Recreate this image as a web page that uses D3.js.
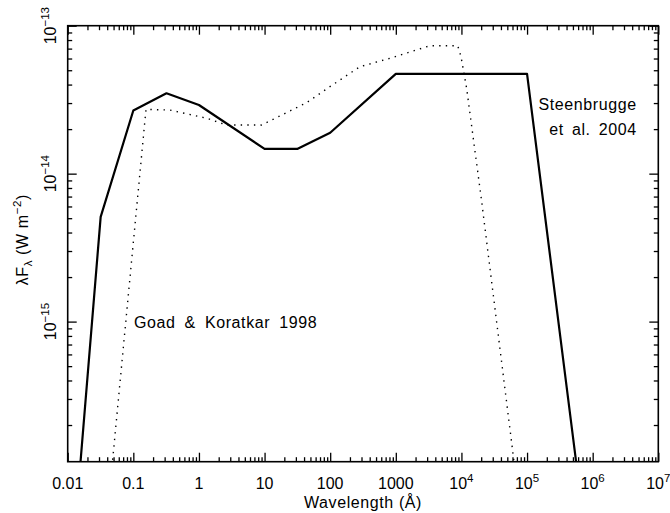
<!DOCTYPE html>
<html>
<head>
<meta charset="utf-8">
<script src="https://cdn.jsdelivr.net/npm/d3@7"></script>
<style>
    body { margin: 0; background: #fff; }
    text { font-family: "Liberation Sans", Arial, sans-serif; fill: #000; }
    .tick line { stroke: #000; stroke-width: 1.3; }
    .axis .domain { display: none; }
</style>
</head>
<body>
<div id="chart"></div>
<script>
// Steenbrugge et al. 2004 (solid)
var solidWave = [0.01, 0.0318, 0.1, 0.32, 1, 10, 31.4, 100, 1000, 1e5, 1e6];
var solidFlux = [1e-17, 5.1e-15, 2.67e-14, 3.49e-14, 2.91e-14, 1.47e-14, 1.47e-14, 1.89e-14, 4.72e-14, 4.72e-14, 1.47e-17];

// Goad & Koratkar 1998 (dotted)
var dotWave = [0.0286, 0.156, 0.361, 1.31, 2.64, 9.0, 43.7, 98.9, 283, 811, 3300, 8790, 9860, 1.2e4, 2.02e4, 6.28e4, 1.27e5];
var dotFlux = [1e-17, 2.72e-14, 2.69e-14, 2.37e-14, 2.13e-14, 2.13e-14, 3.02e-14, 3.87e-14, 5.28e-14, 6.02e-14, 7.32e-14, 7.32e-14, 6.17e-14, 3.78e-14, 6.64e-15, 1.16e-16, 1e-17];

// tick labels
var xMajor = [1e-2, 1e-1, 1, 10, 100, 1000, 1e4, 1e5, 1e6, 1e7];
var xLabelBase = ["0.01", "0.1", "1", "10", "100", "1000", "10", "10", "10", "10"];
var xLabelExp = ["", "", "", "", "", "", "4", "5", "6", "7"];
var yMajor = [1e-15, 1e-14, 1e-13];
var yLabelExp = ["\u221215", "\u221214", "\u221213"];

var margin = { top: 25.7, right: 11.7, bottom: 51.3, left: 67.7 };
var width = 670 - margin.left - margin.right;
var height = 513 - margin.top - margin.bottom;

var svg = d3.select("#chart")
    .append("svg")
    .attr("width", 670)
    .attr("height", 513)
    .append("g")
    .attr("transform", "translate(" + margin.left + "," + margin.top + ")");

var x = d3.scaleLog()
    .domain([1e-2, 1e7])
    .range([0, width]);

var y = d3.scaleLog()
    .domain([1.13e-16, 1e-13])
    .range([height, 0]);

// minor ticks at 2..9 of every decade inside the domain
function minorTicks(scale) {
    var d = scale.domain(), out = [];
    for (var e = Math.floor(Math.log10(d[0])); e < Math.log10(d[1]); e++) {
        for (var m = 2; m <= 9; m++) {
            var v = m * Math.pow(10, e);
            if (v >= d[0] && v <= d[1]) out.push(v);
        }
    }
    return out;
}

var xMinor = minorTicks(x);
var yMinor = minorTicks(y);

function drawTicks(axisFn, scale, values, size, transform) {
    svg.append("g")
        .attr("class", "axis")
        .attr("transform", transform)
        .call(axisFn(scale).tickValues(values).tickSize(-size).tickFormat(""));
}

[[xMajor, 9], [xMinor, 4.5]].forEach(function(t) {
    drawTicks(d3.axisBottom, x, t[0], t[1], "translate(0," + height + ")");
    drawTicks(d3.axisTop, x, t[0], t[1], "translate(0,0)");
});
[[yMajor, 9], [yMinor, 4.5]].forEach(function(t) {
    drawTicks(d3.axisLeft, y, t[0], t[1], "translate(0,0)");
    drawTicks(d3.axisRight, y, t[0], t[1], "translate(" + width + ",0)");
});

svg.append("rect")
    .attr("width", width)
    .attr("height", height)
    .attr("fill", "none")
    .attr("stroke", "#000")
    .attr("stroke-width", 1.6);

// x tick labels
var xl = svg.selectAll(".x-label")
    .data(xMajor)
    .enter()
    .append("text")
    .attr("class", "x-label")
    .attr("x", function(d) { return x(d); })
    .attr("y", height + 27.3)
    .attr("text-anchor", "middle")
    .style("font-size", "16px");
xl.append("tspan").text(function(d, i) { return xLabelBase[i]; });
xl.append("tspan")
    .attr("dy", -7)
    .style("font-size", "11.5px")
    .text(function(d, i) { return xLabelExp[i]; });

// y tick labels (vertical)
var yl = svg.selectAll(".y-label")
    .data(yMajor)
    .enter()
    .append("text")
    .attr("class", "y-label")
    .attr("transform", function(d) { return "translate(-12," + y(d) + ") rotate(-90)"; })
    .attr("text-anchor", "middle")
    .style("font-size", "16px");
yl.append("tspan").text("10");
yl.append("tspan")
    .attr("dy", -7)
    .style("font-size", "11.5px")
    .text(function(d, i) { return yLabelExp[i]; });

// axis titles
svg.append("text")
    .attr("x", width / 2)
    .attr("y", height + 46.5)
    .attr("text-anchor", "middle")
    .style("font-size", "16px")
    .style("letter-spacing", "0.6px")
    .text("Wavelength (\u00c5)");

var yt = svg.append("text")
    .attr("transform", "translate(-40," + (height / 2 - 4) + ") rotate(-90)")
    .attr("text-anchor", "middle")
    .style("font-size", "16px")
    .style("letter-spacing", "0.6px");
yt.append("tspan").text("\u03bbF");
yt.append("tspan").attr("dy", 4).style("font-size", "11.5px").text("\u03bb");
yt.append("tspan").attr("dy", -4).text(" (W m");
yt.append("tspan").attr("dy", -7).style("font-size", "11.5px").text("\u22122");
yt.append("tspan").attr("dy", 7).text(")");

// curves
svg.append("clipPath")
    .attr("id", "plot-clip")
    .append("rect")
    .attr("width", width)
    .attr("height", height);

var line = d3.line()
    .x(function(d) { return x(d[0]); })
    .y(function(d) { return y(d[1]); });

svg.append("path")
    .datum(dotWave.map(function(w, i) { return [w, dotFlux[i]]; }))
    .attr("clip-path", "url(#plot-clip)")
    .attr("d", line)
    .attr("fill", "none")
    .attr("stroke", "#000")
    .attr("stroke-width", 1.4)
    .attr("stroke-dasharray", "1.4,5.2");

svg.append("path")
    .datum(solidWave.map(function(w, i) { return [w, solidFlux[i]]; }))
    .attr("clip-path", "url(#plot-clip)")
    .attr("d", line)
    .attr("fill", "none")
    .attr("stroke", "#000")
    .attr("stroke-width", 2.2)
    .attr("stroke-linejoin", "round");

// annotations
var note = svg.append("g")
    .style("font-size", "16px")
    .style("letter-spacing", "0.6px");

note.append("text")
    .attr("x", 636.7 - margin.left)
    .attr("y", 110 - margin.top)
    .attr("text-anchor", "end")
    .text("Steenbrugge");

note.append("text")
    .attr("x", 636.7 - margin.left)
    .attr("y", 135 - margin.top)
    .attr("text-anchor", "end")
    .style("word-spacing", "3px")
    .text("et al. 2004");

note.append("text")
    .attr("x", 134 - margin.left)
    .attr("y", 327.7 - margin.top)
    .style("word-spacing", "4px")
    .text("Goad & Koratkar 1998");
</script>
</body>
</html>
